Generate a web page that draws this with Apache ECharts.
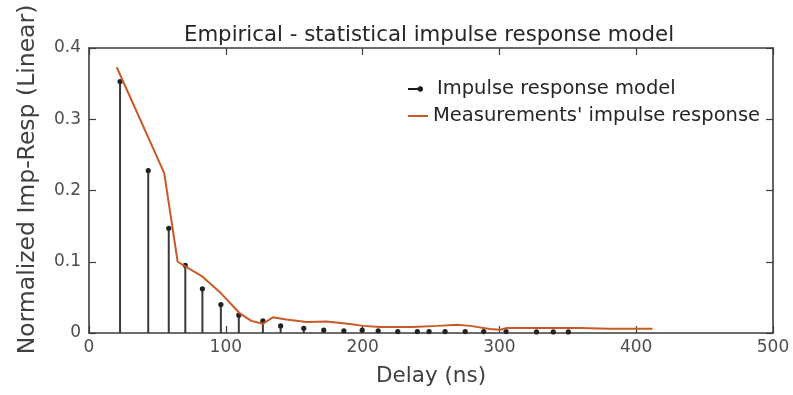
<!DOCTYPE html>
<html>
<head>
<meta charset="utf-8">
<script src="https://cdn.jsdelivr.net/npm/echarts@6/dist/echarts.min.js"></script>
<style>html,body{margin:0;padding:0;background:#fff;}#chart{width:793px;height:395px;}</style>
</head>
<body>
<div id="chart"></div>
<script>
// Impulse response model (stems): delay (ns) and normalized amplitude
var stemDelays = [22.7, 43.3, 58.3, 70.4, 82.9, 96.4, 109.5, 127.1, 140.1, 157, 171.6, 186.3, 199.7, 211.4, 225.7, 240, 248.6, 260.3, 275, 288.5, 304.9, 327.1, 339.4, 350.4];
var stemValues = [0.353, 0.228, 0.147, 0.095, 0.062, 0.040, 0.025, 0.017, 0.010, 0.0065, 0.004, 0.003, 0.004, 0.003, 0.002, 0.002, 0.002, 0.002, 0.002, 0.002, 0.002, 0.0015, 0.0015, 0.0015];
// Measurements' impulse response (line)
var measDelays = [20.3, 55, 64.8, 83, 95.3, 110, 118.6, 127.1, 134.4, 144.2, 158.9, 173.6, 190.7, 200.4, 212.7, 237, 255, 269, 278.7, 293, 300.7, 305.5, 322.7, 359, 380, 400, 412];
var measValues = [0.373, 0.2245, 0.100, 0.079, 0.058, 0.028, 0.017, 0.013, 0.022, 0.019, 0.0155, 0.016, 0.0126, 0.010, 0.0084, 0.0084, 0.010, 0.0116, 0.010, 0.0056, 0.0046, 0.007, 0.007, 0.007, 0.006, 0.006, 0.006];
var xTicks = [0, 100, 200, 300, 400, 500];
var yTicks = [0, 0.1, 0.2, 0.3, 0.4];

var stemName = 'Impulse response model';
var lineName = "Measurements' impulse response";
var FONT = 'DejaVu Sans';

var stemData = stemDelays.map(function (d, i) { return [d, stemValues[i]]; });
var lineData = measDelays.map(function (d, i) { return [d, measValues[i]]; });

var axisLineStyle = { color: '#3c3c3c', width: 1.6 };
var tickCommon = { show: true, inside: true, length: 7, lineStyle: { color: '#3c3c3c', width: 1.2 } };

var chart = echarts.init(document.getElementById('chart'), null, { renderer: 'canvas' });
chart.setOption({
  animation: false,
  backgroundColor: '#ffffff',
  title: {
    text: 'Empirical - statistical impulse response model',
    left: 424, top: 20, textAlign: 'center',
    textStyle: { fontFamily: FONT, fontSize: 21.3, fontWeight: 'normal', color: '#262626' }
  },
  legend: [
    {
      data: [{ name: stemName, icon: 'path://M0,2H12V4H0Z M12,0.4A2.6,2.6 0 1 1 12,5.6A2.6,2.6 0 1 1 12,0.4Z' }],
      left: 408, top: 79, padding: 0, itemWidth: 15, itemHeight: 6,
      selectedMode: false,
      textStyle: { fontFamily: FONT, fontSize: 19.5, color: '#262626', padding: [0, 0, 0, 9] }
    },
    {
      data: [{ name: lineName, icon: 'rect' }],
      left: 408, top: 106, padding: 0, itemWidth: 20, itemHeight: 2,
      selectedMode: false,
      textStyle: { fontFamily: FONT, fontSize: 19.5, color: '#262626' }
    }
  ],
  grid: { left: 89, right: 20, top: 48, bottom: 62, containLabel: false },
  xAxis: [
    {
      type: 'value', min: xTicks[0], max: xTicks[xTicks.length - 1], interval: 100, position: 'bottom',
      name: 'Delay (ns)', nameLocation: 'middle', nameGap: 32,
      nameTextStyle: { fontFamily: FONT, fontSize: 21.5, color: '#404040' },
      axisLine: { show: true, lineStyle: axisLineStyle },
      axisTick: tickCommon,
      axisLabel: { fontFamily: FONT, fontSize: 17, color: '#4d4d4d', margin: 6 },
      splitLine: { show: false }
    },
    {
      type: 'value', min: xTicks[0], max: xTicks[xTicks.length - 1], interval: 100, position: 'top',
      axisLine: { show: true, onZero: false, lineStyle: axisLineStyle },
      axisTick: tickCommon,
      axisLabel: { show: false },
      splitLine: { show: false }
    }
  ],
  yAxis: [
    {
      type: 'value', min: yTicks[0], max: yTicks[yTicks.length - 1], interval: 0.1, position: 'left',
      name: 'Normalized Imp-Resp (Linear)', nameLocation: 'middle', nameGap: 49,
      nameTextStyle: { fontFamily: FONT, fontSize: 23.5, color: '#404040', padding: [0, 0, 0, 22] },
      axisLine: { show: true, onZero: false, lineStyle: axisLineStyle },
      axisTick: tickCommon,
      axisLabel: { fontFamily: FONT, fontSize: 17, color: '#4d4d4d', margin: 8 },
      splitLine: { show: false }
    },
    {
      type: 'value', min: yTicks[0], max: yTicks[yTicks.length - 1], interval: 0.1, position: 'right',
      axisLine: { show: true, onZero: false, lineStyle: axisLineStyle },
      axisTick: tickCommon,
      axisLabel: { show: false },
      splitLine: { show: false }
    }
  ],
  series: [
    {
      name: stemName,
      type: 'custom',
      xAxisIndex: 0, yAxisIndex: 0,
      itemStyle: { color: '#1a1a1a' },
      data: stemData,
      renderItem: function (params, api) {
        var x = api.value(0), y = api.value(1);
        var p0 = api.coord([x, 0]);
        var p1 = api.coord([x, y]);
        return {
          type: 'group',
          children: [
            { type: 'line', shape: { x1: p0[0], y1: p0[1], x2: p1[0], y2: p1[1] }, style: { stroke: '#3a3a3a', lineWidth: 2 } },
            { type: 'circle', shape: { cx: p1[0], cy: p1[1], r: 2.6 }, style: { fill: '#222222' } }
          ]
        };
      }
    },
    {
      name: lineName,
      type: 'line',
      xAxisIndex: 0, yAxisIndex: 0,
      data: lineData,
      showSymbol: false,
      smooth: false,
      itemStyle: { color: '#c95a27' },
      lineStyle: { color: '#c95a27', width: 2 },
      z: 3
    }
  ]
});
</script>
</body>
</html>
